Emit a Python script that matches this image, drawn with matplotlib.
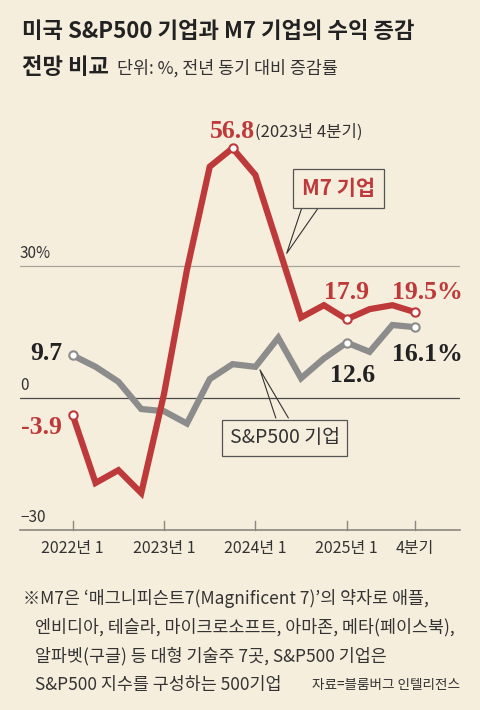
import matplotlib
matplotlib.use("Agg")
import matplotlib.pyplot as plt

plt.rcParams['font.family'] = ['Noto Sans CJK KR', 'DejaVu Sans']

# 2022 Q1 ~ 2025 Q4, 전년 동기 대비 증감률 (%)
quarters = list(range(16))
m7 = [-3.9, -19.3, -16.4, -21.6, 1.0, 29.1, 52.6, 56.8, 50.7, 34.5, 18.3, 21.1, 17.9, 20.2, 21.1, 19.5]
sp500 = [9.7, 7.1, 3.7, -2.5, -3.0, -5.8, 4.3, 7.7, 7.1, 13.7, 4.5, 9.0, 12.6, 10.5, 16.6, 16.1]
tick_pos = [0, 4, 8, 12, 15]
tick_labels = ['2022년 1', '2023년 1', '2024년 1', '2025년 1', '4분기']
m7_marks = [0, 7, 12, 15]
sp_marks = [0, 12, 15]

bg = '#f6eedd'
red = '#be3a3a'
gray = '#8c8c8c'
dark = '#222222'
serif = ['Liberation Serif', 'DejaVu Serif']

fig = plt.figure(figsize=(4.8, 7.1), dpi=100)
fig.patch.set_facecolor(bg)
W, H = 480, 710
ax = fig.add_axes([20 / W, 1 - 530 / H, 440 / W, 410 / H])
ax.set_facecolor(bg)
ax.set_xlim(-2.31, 16.96)
ax.set_ylim(-30, 63.2)
for s in ax.spines.values():
    s.set_visible(False)
ax.set_yticks([])
ax.set_xticks([])

# grid lines
ax.axhline(30, color='#a9a49a', lw=0.9, zorder=1)
ax.axhline(0, color='#4a4a4a', lw=0.9, zorder=1)
ax.axhline(-30, color='#8a8780', lw=1.2, zorder=1, clip_on=False)
for t, lab in zip(tick_pos, tick_labels):
    ax.plot([t, t], [-30, -28], color='#8a8780', lw=1.0, clip_on=False)
    ax.text(t, -34.2, lab, ha='center', va='center', fontsize=11.5, color='#333333')
for v, lab in [(30, '30%'), (0, '0'), (-30, '−30')]:
    ax.text(-2.31, v + 1.0, lab, ha='left', va='bottom', fontsize=11, color='#333333')

# lines
ax.plot(quarters, sp500, color=gray, lw=4.5, solid_joinstyle='miter', zorder=3)
ax.plot(quarters, m7, color=red, lw=4.5, solid_joinstyle='miter', zorder=4)
ax.plot([quarters[i] for i in sp_marks], [sp500[i] for i in sp_marks], 'o', ms=6,
        mfc='white', mec=gray, mew=1.5, zorder=5)
ax.plot([quarters[i] for i in m7_marks], [m7[i] for i in m7_marks], 'o', ms=6,
        mfc='white', mec=red, mew=1.5, zorder=5)

# value labels
big = dict(fontsize=18.5, fontweight='bold', family=serif)
ax.text(8.0, 60.5, '56.8', color=red, ha='right', va='center', **big)
ax.text(8.0, 60.5, '(2023년 4분기)', color='#333333', fontsize=12, ha='left', va='center')
ax.text(12.0, 24.0, '17.9', color=red, ha='center', va='center', **big)
ax.text(15.52, 24.0, '19.5%', color=red, ha='center', va='center', **big)
ax.text(-0.47, 10.2, '9.7', color=dark, ha='right', va='center', **big)
ax.text(-0.47, -6.6, '-3.9', color=red, ha='right', va='center', **big)
ax.text(12.26, 5.2, '12.6', color=dark, ha='center', va='center', **big)
ax.text(15.52, 9.8, '16.1%', color=dark, ha='center', va='center', **big)

# callout boxes
ax.text(11.64, 47.6, 'M7 기업', color=red, fontsize=15, fontweight='bold', ha='center',
        va='center', zorder=6,
        bbox=dict(boxstyle='square,pad=0.42', fc=bg, ec='#555555', lw=0.9))
ax.plot([10.03, 9.37, 10.75], [43.2, 32.9, 43.2], color='#333333', lw=0.8, zorder=5)
ax.text(9.28, -9.0, 'S&P500 기업', color='#333333', fontsize=14, ha='center',
        va='center', zorder=6,
        bbox=dict(boxstyle='square,pad=0.38', fc=bg, ec='#555555', lw=0.9))
ax.plot([8.89, 8.2, 9.44], [-4.5, 6.4, -4.5], color='#333333', lw=0.8, zorder=5)

# title
fig.text(22 / W, 1 - 32 / H, '미국 S&P500 기업과 M7 기업의 수익 증감', fontsize=16,
         fontweight='bold', color='#222222', ha='left', va='center')
fig.text(22 / W, 1 - 68 / H, '전망 비교', fontsize=16, fontweight='bold',
         color='#222222', ha='left', va='center')
fig.text(117 / W, 1 - 68 / H, '단위: %, 전년 동기 대비 증감률', fontsize=12.5,
         color='#333333', ha='left', va='center')

# footnote
notes = ["※M7은 ‘매그니피슨트7(Magnificent 7)’의 약자로 애플,",
         "엔비디아, 테슬라, 마이크로소프트, 아마존, 메타(페이스북),",
         "알파벳(구글) 등 대형 기술주 7곳, S&P500 기업은",
         "S&P500 지수를 구성하는 500기업"]
for k, line in enumerate(notes):
    x0 = 23 if k == 0 else 35
    fig.text(x0 / W, 1 - (598 + 29 * k) / H, line, fontsize=12.5, color='#333333',
             ha='left', va='center')
fig.text(460 / W, 1 - 685 / H, '자료=블룸버그 인텔리전스', fontsize=9.8, color='#333333',
         ha='right', va='center')

fig.savefig('out.png', dpi=100, facecolor=bg)
